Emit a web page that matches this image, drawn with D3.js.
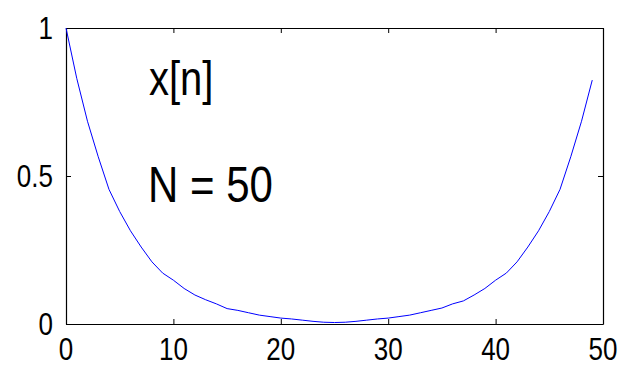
<!DOCTYPE html>
<html>
<head>
<meta charset="utf-8">
<script src="https://cdn.jsdelivr.net/npm/d3@7"></script>
<style>
  html, body { margin: 0; padding: 0; background: #fff; }
  svg { display: block; font-family: "Liberation Sans", Arial, sans-serif; }
</style>
</head>
<body>
<div id="chart"></div>
<script>
// sample values, n = 0..49
const nValues = d3.range(0, 50)
const xValues = [
    1.0, 0.83, 0.685, 0.565, 0.455, 0.38, 0.315, 0.26, 0.21, 0.172,
    0.148, 0.12, 0.098, 0.082, 0.068, 0.052, 0.046, 0.038, 0.03, 0.025,
    0.02, 0.017, 0.013, 0.009, 0.006, 0.005, 0.006, 0.009, 0.013, 0.017,
    0.02, 0.025, 0.03, 0.038, 0.046, 0.054, 0.068, 0.078, 0.098, 0.12,
    0.148, 0.172, 0.21, 0.26, 0.315, 0.38, 0.455, 0.565, 0.685, 0.824
]
const xTicks = [0, 10, 20, 30, 40, 50]
const yTicks = [0, 0.5, 1]
const yTickLabels = ["0", "0.5", "1"]
const notes = ["x[n]", "N = 50"]

const width = 627, height = 368
const margin = {top: 28, right: 24, bottom: 44, left: 66}

const svg = d3.select("#chart").append("svg")
    .attr("width", width)
    .attr("height", height)

const x = d3.scaleLinear().domain([0, 50]).range([margin.left, width - margin.right])
const y = d3.scaleLinear().domain([0, 1]).range([height - margin.bottom, margin.top])

// the source picture is stretched vertically, so text is too
const stretch = 1.2

// axes box with inward ticks on all four sides
const tickLen = 5
const drawAxis = (axis, tx, ty) => {
    svg.append("g")
        .attr("transform", `translate(${tx},${ty})`)
        .call(axis)
        .call(g => g.selectAll("text").remove())
        .call(g => g.select(".domain").attr("stroke", "#000").attr("stroke-width", 1.2))
        .call(g => g.selectAll(".tick line").attr("stroke", "#000").attr("stroke-width", 1))
}
drawAxis(d3.axisBottom(x).tickValues(xTicks).tickSizeInner(-tickLen).tickSizeOuter(0), 0, y(0))
drawAxis(d3.axisTop(x).tickValues(xTicks).tickSizeInner(-tickLen).tickSizeOuter(0), 0, y(1))
drawAxis(d3.axisLeft(y).tickValues(yTicks).tickSizeInner(-tickLen).tickSizeOuter(0), x(0), 0)
drawAxis(d3.axisRight(y).tickValues(yTicks).tickSizeInner(-tickLen).tickSizeOuter(0), x(50), 0)

// tick labels
svg.selectAll(".xlab")
    .data(xTicks)
    .enter().append("text")
    .attr("class", "xlab")
    .attr("transform", d => `translate(${x(d)},${y(0) + 36}) scale(1,${stretch})`)
    .attr("text-anchor", "middle")
    .attr("font-size", 26)
    .text(d => d)

svg.selectAll(".ylab")
    .data(yTicks)
    .enter().append("text")
    .attr("class", "ylab")
    .attr("transform", d => `translate(${x(0) - 13},${y(d)}) scale(1,${stretch})`)
    .attr("text-anchor", "end")
    .attr("dy", "0.36em")
    .attr("font-size", 26)
    .text((d, i) => yTickLabels[i])

// the signal
const line = d3.line()
    .x((d, i) => x(nValues[i]))
    .y(d => y(d))

svg.append("path")
    .datum(xValues)
    .attr("fill", "none")
    .attr("stroke", "#0000ff")
    .attr("stroke-width", 1)
    .attr("d", line)

// annotations
svg.append("text")
    .attr("transform", `translate(149,95) scale(1,1.2)`)
    .attr("font-size", 40)
    .text(notes[0])

svg.append("text")
    .attr("transform", `translate(148,202) scale(1,1.2)`)
    .attr("font-size", 42)
    .text(notes[1])
</script>
</body>
</html>
